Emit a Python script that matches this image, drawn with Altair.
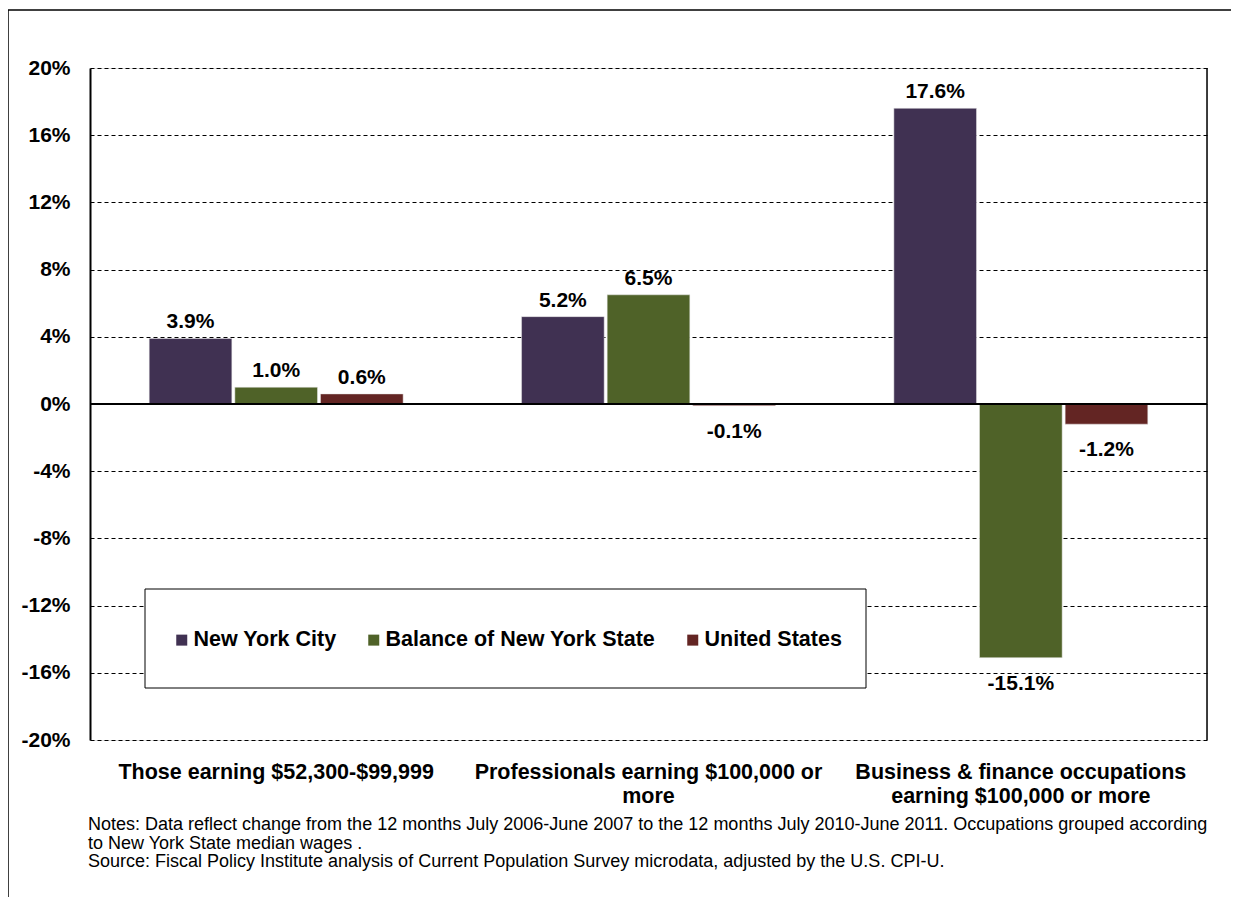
import altair as alt
import pandas as pd

# ---- data ----
categories = [
    "Those earning $52,300-$99,999",
    "Professionals earning $100,000 or\nmore",
    "Business & finance occupations\nearning $100,000 or more",
]
series = ["New York City", "Balance of New York State", "United States"]
nyc = [3.9, 5.2, 17.6]
balance = [1.0, 6.5, -15.1]
us = [0.6, -0.1, -1.2]
colors = ["#403152", "#4F6228", "#632523"]
y_ticks = [-20, -16, -12, -8, -4, 0, 4, 8, 12, 16, 20]
notes_lines = [
    "Notes: Data reflect change from the 12 months July 2006-June 2007 to the 12 months July 2010-June 2011. Occupations grouped according",
    "to New York State median wages .",
    "Source: Fiscal Policy Institute analysis of Current Population Survey microdata, adjusted by the U.S. CPI-U.",
]

rows = []
for s, vals in zip(series, [nyc, balance, us]):
    for c, v in zip(categories, vals):
        rows.append({"category": c, "series": s, "value": v})
df = pd.DataFrame(rows)

FONT = "Liberation Sans"
W, H = 1117, 672

x_enc = alt.X("category:N", sort=categories, axis=None,
              scale=alt.Scale(paddingInner=0.318, paddingOuter=0.159))
xoff_enc = alt.XOffset("series:N", sort=series, scale=alt.Scale(paddingInner=0.035, paddingOuter=0))
y_scale = alt.Scale(domain=[-20, 20], nice=False, zero=False)

base = alt.Chart(df)

bars = base.mark_bar(stroke="#e8e8e8", strokeWidth=0.5).encode(
    x=x_enc,
    xOffset=xoff_enc,
    y=alt.Y("value:Q", scale=y_scale, title=None,
            axis=alt.Axis(values=y_ticks, labelExpr="datum.value + '%'",
                          grid=True, gridColor="#000000", gridDash=[4, 3], gridWidth=1,
                          gridOpacity=1,
                          domain=True, domainColor="#000000", domainWidth=2,
                          ticks=False, labelPadding=20, labelFont=FONT,
                          labelFontSize=21, labelFontWeight="bold", labelColor="#000000")),
    color=alt.Color("series:N", sort=series,
                    scale=alt.Scale(domain=series, range=colors),
                    legend=alt.Legend(title=None, orient="none", direction="horizontal",
                                      legendX=81, legendY=561, symbolType="square",
                                      symbolSize=121, symbolStrokeWidth=0,
                                      labelFont=FONT, labelFontSize=21.5, labelFontWeight="bold",
                                      labelColor="#000000", labelOffset=1, columnPadding=26,
                                      padding=0, labelLimit=400)),
)

label_calc = "(datum.value < 0 ? '-' : '') + format(abs(datum.value), '.1f') + '%'"
pos_labels = base.transform_filter("datum.value >= 0").transform_calculate(
    lbl=label_calc
).mark_text(font=FONT, fontSize=21, fontWeight="bold", color="#000000",
            baseline="alphabetic", dy=-10).encode(
    x=x_enc, xOffset=xoff_enc, y=alt.Y("value:Q", scale=y_scale), text="lbl:N")

neg_labels = base.transform_filter("datum.value < 0").transform_calculate(
    lbl=label_calc
).mark_text(font=FONT, fontSize=21, fontWeight="bold", color="#000000",
            baseline="alphabetic", dy=32).encode(
    x=x_enc, xOffset=xoff_enc, y=alt.Y("value:Q", scale=y_scale), text="lbl:N")

zero_rule = alt.Chart(pd.DataFrame({"v": [0]})).mark_rule(color="#000000", strokeWidth=2).encode(
    y=alt.Y("v:Q", scale=y_scale))

right_border = alt.Chart(pd.DataFrame({"v": [0]})).mark_rule(color="#000000", strokeWidth=1.5).encode(
    x=alt.value(W), y=alt.value(0), y2=alt.value(H))

legend_box = alt.Chart(pd.DataFrame({"v": [0]})).mark_rect(
    fill="#ffffff", stroke="#000000", strokeWidth=1).encode(
    x=alt.value(55), x2=alt.value(776), y=alt.value(521), y2=alt.value(620))

cat_labels = alt.Chart(pd.DataFrame({"category": categories})).mark_text(
    font=FONT, fontSize=21.5, fontWeight="bold", color="#000000", lineBreak="\n",
    lineHeight=24, baseline="alphabetic", align="center").encode(
    x=x_enc, y=alt.value(711), text="category:N")

notes = alt.Chart(pd.DataFrame({"t": ["\n".join(notes_lines)]})).mark_text(
    font=FONT, fontSize=18, color="#000000", lineBreak="\n", lineHeight=18.5,
    baseline="alphabetic", align="left").encode(
    x=alt.value(-2), y=alt.value(762), text="t:N")

frame_top = alt.Chart(pd.DataFrame({"v": [0]})).mark_rule(color="#000000", strokeWidth=1.5).encode(
    x=alt.value(-82), x2=alt.value(1141), y=alt.value(-58))
frame_left = alt.Chart(pd.DataFrame({"v": [0]})).mark_rule(color="#000000", strokeWidth=1.5).encode(
    x=alt.value(-82), y=alt.value(-58), y2=alt.value(829))

chart = alt.layer(
    bars, zero_rule, right_border, legend_box, pos_labels, neg_labels, cat_labels, notes,
    frame_top, frame_left,
).properties(
    width=W, height=H,
    autosize=alt.AutoSizeParams(type="none"),
    padding={"left": 82, "top": 60, "right": 24, "bottom": 157},
    background="#ffffff",
).configure_view(stroke=None).configure(font=FONT)

chart.save("out.html", embed_options={"renderer": "svg", "actions": False})
